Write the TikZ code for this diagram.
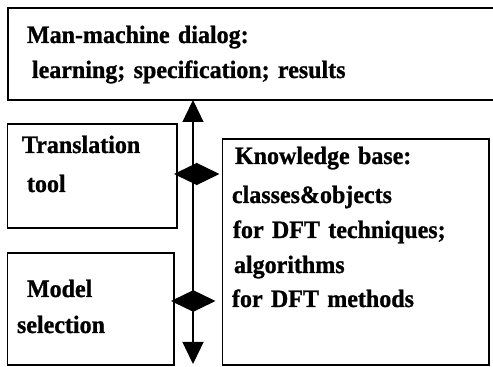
\documentclass[tikz,border=0pt]{standalone}
\usepackage{fontspec}
\setmainfont{Liberation Serif}[FakeStretch=0.96, BoldFeatures={FakeBold=1}]
\usetikzlibrary{arrows.meta}

\begin{document}
\begin{tikzpicture}[x=1pt, y=1pt, >={Triangle[length=22pt,width=21pt]}]
    \tikzstyle{every node} = [font=\bfseries\fontsize{25}{36}\selectfont]
    \tikzstyle{textbox} = [draw, line width=1.3pt, anchor=north west, align=left, inner ysep=0pt, outer sep=0pt]
    \tikzstyle{link} = [line width=1.3pt]
    \tikzstyle{twoway} = [link, {Triangle[length=23pt,width=22pt]}-{Triangle[length=23pt,width=22pt]}]

    \useasboundingbox (0,0) rectangle (493,367);

    \node (dialog) [textbox, inner xsep=19pt, text width=459pt, text height=35pt, text depth=57pt] at (8,359)
        {Man-machine dialog:\\[-1pt]\hspace{5pt}learning; specification; results};
    \node (translation) [textbox, inner xsep=14.5pt, text width=140.5pt, text height=29pt, text depth=75pt]
        at ([xshift=-0.5pt, yshift=-24pt]dialog.south west) {Translation\\[3pt]\hspace{5pt}tool};
    \node (model) [textbox, inner xsep=9.5pt, text width=147.5pt, text height=44pt, text depth=68pt]
        at ([yshift=-25pt]translation.south west) {\hspace{10pt}Model\\selection};
    \node (knowledge) [textbox, inner xsep=9.5pt, text width=247.5pt, text height=25pt, text depth=201pt]
        at ([xshift=45.5pt, yshift=-15pt]translation.north east)
        {\hspace{3pt}Knowledge base:\\[3pt]classes\&objects\\[-1pt]\hspace{1pt}for DFT techniques;\\[-1pt]\hspace{2pt}algorithms\\[-2pt]for DFT methods};

    \coordinate (spineend) at (193,3);
    \draw [link, <->] (spineend |- dialog.south) -- (spineend);
    \draw [twoway] ([xshift=-3pt, yshift=2pt]translation.east) -- ([xshift=-3pt, yshift=2pt]translation.east -| knowledge.west);
    \draw [twoway] ([xshift=-3pt, yshift=8pt]model.east) -- ([xshift=-7pt, yshift=8pt]model.east -| knowledge.west);
\end{tikzpicture}
\end{document}
